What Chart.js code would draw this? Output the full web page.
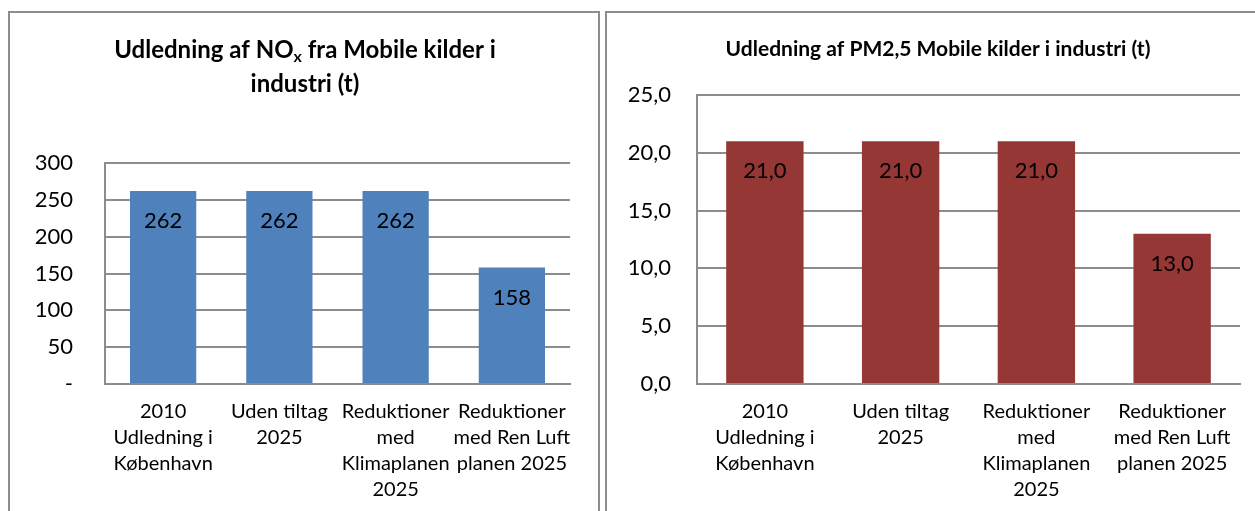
<!DOCTYPE html>
<html>
<head>
<meta charset="utf-8">
<script src="https://cdn.jsdelivr.net/npm/chart.js@4.4.1/dist/chart.umd.min.js"></script>
<style>
  html, body { margin: 0; padding: 0; background: #fff; }
  body { width: 1255px; height: 511px; position: relative; overflow: hidden; }
  .box { position: absolute; border: 2px solid #8c8c8c; box-sizing: border-box; }
  #box1 { left: 8px; top: 11px; width: 592px; height: 530px; }
  #box2 { left: 605px; top: 11px; width: 680px; height: 530px; }
  canvas { position: absolute; top: 0; }
  #c1 { left: 0; }
  #c2 { left: 603px; }
</style>
</head>
<body>
<div class="box" id="box1"></div>
<div class="box" id="box2"></div>
<canvas id="c1"></canvas>
<canvas id="c2"></canvas>
<script>
// data
const categories = [
  ['2010', 'Udledning i', 'København'],
  ['Uden tiltag', '2025'],
  ['Reduktioner', 'med', 'Klimaplanen', '2025'],
  ['Reduktioner', 'med Ren Luft', 'planen 2025']
];
const noxValues = [262, 262, 262, 158];
const pmValues = [21.0, 21.0, 21.0, 13.0];
const noxTicks = [0, 50, 100, 150, 200, 250, 300];
const pmTicks = [0, 5, 10, 15, 20, 25];

const FONT = 'Lato, "Open Sans", sans-serif';
const GRID = '#8c8c8c';

// draws the value inside each bar, a bit under its top
const barValues = {
  id: 'barValues',
  afterDatasetsDraw(chart, args, opts) {
    const ctx = chart.ctx;
    const meta = chart.getDatasetMeta(0);
    ctx.save();
    ctx.font = '22px ' + FONT;
    ctx.fillStyle = '#000';
    ctx.textAlign = 'center';
    ctx.textBaseline = 'middle';
    meta.data.forEach((bar, i) => {
      ctx.fillText(opts.format(chart.data.datasets[0].data[i]), bar.x, bar.y + 30);
    });
    ctx.restore();
  }
};

// title drawn by hand so the NOx can have a subscript
const richTitle = {
  id: 'richTitle',
  afterDraw(chart, args, opts) {
    const ctx = chart.ctx;
    ctx.save();
    ctx.fillStyle = '#000';
    ctx.textBaseline = 'middle';
    ctx.textAlign = 'left';
    opts.lines.forEach(line => {
      let w = 0;
      line.parts.forEach(p => {
        ctx.font = 'bold ' + (p.sub ? opts.subSize : opts.size) + 'px ' + FONT;
        w += ctx.measureText(p.text).width;
      });
      let x = opts.x - w / 2;
      line.parts.forEach(p => {
        ctx.font = 'bold ' + (p.sub ? opts.subSize : opts.size) + 'px ' + FONT;
        ctx.fillText(p.text, x, line.y + (p.sub ? 7 : 0));
        x += ctx.measureText(p.text).width;
      });
    });
    ctx.restore();
  }
};

function makeChart(id, w, values, color, ticks, opt) {
  const canvas = document.getElementById(id);
  canvas.width = w;
  canvas.height = 511;
  canvas.style.width = w + 'px';
  canvas.style.height = '511px';
  return new Chart(canvas, {
    type: 'bar',
    data: {
      labels: categories,
      datasets: [{
        data: values,
        backgroundColor: color,
        barPercentage: 0.57,
        categoryPercentage: 1
      }]
    },
    plugins: [barValues, richTitle],
    options: {
      responsive: false,
      maintainAspectRatio: false,
      animation: false,
      layout: { padding: { top: opt.top, right: opt.right, left: 0, bottom: 0 } },
      plugins: {
        legend: { display: false },
        tooltip: { enabled: false },
        title: { display: false },
        barValues: { format: opt.format },
        richTitle: opt.title
      },
      scales: {
        x: {
          grid: { display: false, drawTicks: false },
          border: { display: true, color: GRID, width: 2 },
          ticks: {
            color: '#000',
            font: { family: FONT, size: 20, lineHeight: 26 / 20 },
            padding: 15,
            maxRotation: 0,
            autoSkip: false
          },
          afterFit(scale) { scale.height = 127; }
        },
        y: {
          min: 0,
          max: ticks[ticks.length - 1],
          afterBuildTicks(scale) { scale.ticks = ticks.map(v => ({ value: v })); },
          grid: { color: GRID, lineWidth: 2, drawTicks: false },
          border: { display: true, color: GRID, width: 2 },
          ticks: {
            color: '#000',
            font: { family: FONT, size: 22 },
            padding: opt.tickPad,
            callback: opt.tickFormat
          },
          afterFit(scale) { scale.width = opt.yWidth; }
        }
      }
    }
  });
}

makeChart('c1', 603, noxValues, '#4f81bd', noxTicks, {
  top: 163, right: 33, yWidth: 105, tickPad: 32,
  tickFormat: v => (v === 0 ? '-' : String(v)),
  format: v => String(v),
  title: {
    x: 305, size: 24, subSize: 16,
    lines: [
      { y: 50, parts: [{ text: 'Udledning af NO' }, { text: 'x', sub: true }, { text: ' fra Mobile kilder i' }] },
      { y: 84, parts: [{ text: 'industri (t)' }] }
    ]
  }
});

makeChart('c2', 652, pmValues, '#953735', pmTicks, {
  top: 95, right: 15, yWidth: 94, tickPad: 26,
  tickFormat: v => v.toFixed(1).replace('.', ','),
  format: v => v.toFixed(1).replace('.', ','),
  title: {
    x: 335, size: 21, subSize: 14,
    lines: [
      { y: 49, parts: [{ text: 'Udledning af PM2,5 Mobile kilder i industri (t)' }] }
    ]
  }
});
</script>
</body>
</html>
